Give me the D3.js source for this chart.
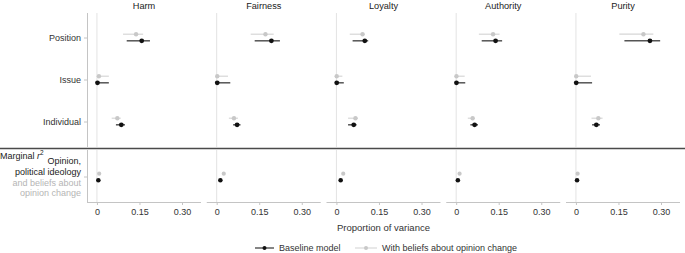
<!DOCTYPE html>
<html><head><meta charset="utf-8">
<script src="https://cdn.jsdelivr.net/npm/d3@7"></script>
<style>body{margin:0;background:#fff}svg{display:block;font-family:"Liberation Sans",Arial,sans-serif}</style>
</head><body>
<svg id="c" width="685" height="253"></svg>
<script>
const foundations = ["Harm","Fairness","Loyalty","Authority","Purity"];
const rows = ["Position","Issue","Individual"];
const models = ["With beliefs about opinion change","Baseline model"];
const xTicks = [0, 0.15, 0.30];
const xTickLabels = ["0","0.15","0.30"];
// values [estimate, low, high] per foundation, per row
const baseline = {
  Harm:      [[0.158,0.105,0.187],[0.002,0,0.042],[0.086,0.067,0.099]],
  Fairness:  [[0.193,0.134,0.223],[0.002,0,0.048],[0.072,0.058,0.084]],
  Loyalty:   [[0.100,0.057,0.112],[0.001,0,0.026],[0.061,0.041,0.071]],
  Authority: [[0.139,0.090,0.162],[0.001,0,0.032],[0.065,0.050,0.077]],
  Purity:    [[0.261,0.171,0.297],[0.001,0,0.057],[0.072,0.057,0.085]]
};
const withBeliefs = {
  Harm:      [[0.138,0.092,0.163],[0.007,0,0.042],[0.072,0.052,0.084]],
  Fairness:  [[0.172,0.120,0.201],[0.002,0,0.040],[0.061,0.043,0.075]],
  Loyalty:   [[0.092,0.047,0.100],[0.001,0,0.021],[0.067,0.041,0.076]],
  Authority: [[0.130,0.080,0.153],[0.001,0,0.030],[0.058,0.041,0.065]],
  Purity:    [[0.238,0.153,0.273],[0.001,0,0.053],[0.079,0.055,0.094]]
};
const marginalBaseline = [0.005,0.013,0.015,0.006,0.004];
const marginalBeliefs  = [0.008,0.025,0.024,0.012,0.006];

const FONT = "Liberation Sans, Arial, sans-serif";
const svg = d3.select("#c");
const panelW = 114, pitch = 119.75, left0 = 87;
const topY0 = 13, topY1 = 147, botY0 = 150, botY1 = 202;
const y = d3.scalePoint().domain(rows).range([37.5,121.5]);
const off = d3.scalePoint().domain(models).range([-3.3,3.3]);
const yBot = 177;
const col = {"Baseline model":{line:"#555",dot:"#111",lw:1.5,r:2.4},
  "With beliefs about opinion change":{line:"#d6d6d6",dot:"#c8c8c8",lw:1.2,r:2.2}};
const axisCol = "#c4c4c4", zeroCol = "#e3e3e3", textCol = "#333";

// separator
svg.append("line").attr("x1",0).attr("x2",685).attr("y1",148.5).attr("y2",148.5)
  .attr("stroke","#4a4a4a").attr("stroke-width",1.4);

foundations.forEach((f,i)=>{
  const L = left0 + i*pitch;
  const x = d3.scaleLinear().domain([-0.035,0.367]).range([L,L+panelW]);
  const g = svg.append("g");
  [[topY0,topY1],[botY0,botY1]].forEach(([a,b])=>{
    g.append("line").attr("x1",x(0)).attr("x2",x(0)).attr("y1",a).attr("y2",b)
      .attr("stroke",zeroCol).attr("stroke-width",1);
  });
  g.append("text").attr("x",L+panelW/2).attr("y",9).attr("text-anchor","middle")
    .attr("font-size",9.2).attr("fill","#222").text(f);
  const ax = g.append("g").attr("transform",`translate(0,${botY1})`)
    .call(d3.axisBottom(x).tickValues(xTicks).tickFormat((d,k)=>xTickLabels[k]).tickSize(3).tickPadding(4));
  ax.select(".domain").attr("stroke",axisCol).attr("d",`M${L},0.5H${L+panelW}`);
  ax.selectAll(".tick line").attr("stroke",axisCol);
  ax.selectAll(".tick text").attr("font-size",9).attr("fill",textCol).attr("font-family",FONT);
  models.forEach(m=>{
    const src = m==="Baseline model" ? baseline[f] : withBeliefs[f];
    const c = col[m];
    rows.forEach((r,k)=>{
      const [e,lo,hi] = src[k];
      const yy = y(r)+off(m);
      g.append("line").attr("x1",x(lo)).attr("x2",x(hi)).attr("y1",yy).attr("y2",yy)
        .attr("stroke",c.line).attr("stroke-width",c.lw);
      g.append("circle").attr("cx",x(e)).attr("cy",yy).attr("r",c.r).attr("fill",c.dot);
    });
    const mv = m==="Baseline model" ? marginalBaseline[i] : marginalBeliefs[i];
    g.append("circle").attr("cx",x(mv)).attr("cy",yBot+off(m)).attr("r",c.r*0.95).attr("fill",c.dot);
  });
});

const yAx = svg.append("g").attr("transform",`translate(${left0},0)`)
  .call(d3.axisLeft(y).tickSize(3).tickPadding(3));
yAx.select(".domain").attr("stroke",axisCol).attr("d",`M0.5,${topY0}V${topY1}`);
yAx.selectAll(".tick line").attr("stroke",axisCol);
yAx.selectAll(".tick text").attr("font-size",9).attr("fill",textCol).attr("font-family",FONT);
svg.append("line").attr("x1",left0+0.5).attr("x2",left0+0.5).attr("y1",botY0).attr("y2",botY1).attr("stroke",axisCol);
svg.append("line").attr("x1",left0-3).attr("x2",left0).attr("y1",yBot).attr("y2",yBot).attr("stroke",axisCol);

const mt = svg.append("text").attr("x",0).attr("y",159).attr("font-size",9).attr("fill","#222");
mt.append("tspan").text("Marginal ");
mt.append("tspan").attr("font-style","italic").text("r");
mt.append("tspan").attr("dy",-4).attr("font-size",6.5).text("2");
[["Opinion,",164,"#222"],["political ideology",175,"#222"],["and beliefs about",185.5,"#b5b5b5"],["opinion change",196,"#b5b5b5"]]
  .forEach(([t,yy,c])=>svg.append("text").attr("x",81).attr("y",yy).attr("text-anchor","end")
    .attr("font-size",9).attr("fill",c).text(t));

svg.append("text").attr("x",left0+2*pitch+panelW/2).attr("y",230.5).attr("text-anchor","middle")
  .attr("font-size",9.5).attr("fill",textCol).text("Proportion of variance");

const legend = [{m:"Baseline model",x:255,w:19},{m:"With beliefs about opinion change",x:355,w:22}];
legend.forEach(d=>{
  const c = col[d.m];
  svg.append("line").attr("x1",d.x).attr("x2",d.x+d.w).attr("y1",248).attr("y2",248)
    .attr("stroke",d.m==="Baseline model"?"#222":"#d6d6d6").attr("stroke-width",1.1);
  svg.append("circle").attr("cx",d.x+d.w/2).attr("cy",248).attr("r",2).attr("fill",c.dot);
  svg.append("text").attr("x",d.x+d.w+5).attr("y",251).attr("font-size",9).attr("fill",textCol).text(d.m);
});
</script>
</body></html>
